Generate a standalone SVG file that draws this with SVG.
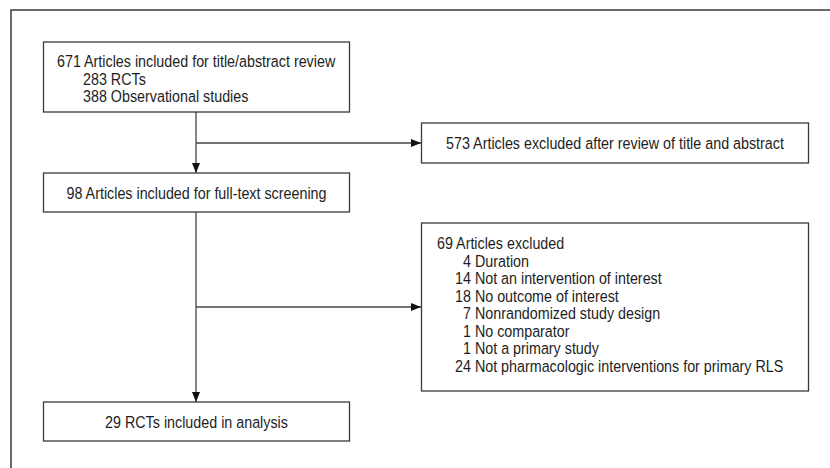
<svg xmlns="http://www.w3.org/2000/svg" width="830" height="468" viewBox="0 0 830 468">
<style>
.box{fill:#fff;stroke:#3a3a3a;stroke-width:1.3}
.frame{fill:#fff;stroke:#3a3a3a;stroke-width:1.5}
.t{font-family:"Liberation Sans",Arial,sans-serif;font-size:16.8px;fill:#1e1e1e}
.c{text-anchor:middle}
.ln{fill:none;stroke:#444;stroke-width:1.3}
</style>
<defs>
<marker id="ah" markerUnits="userSpaceOnUse" markerWidth="10" markerHeight="8" refX="10" refY="4" orient="auto">
<path d="M0,0 L10,4 L0,8 z" fill="#111"/>
</marker>
</defs>
<rect class="frame" x="11" y="10" width="830" height="470"/>
<g id="connectors">
<line class="ln" x1="196" y1="112" x2="196" y2="173" marker-end="url(#ah)"/>
<line class="ln" x1="196" y1="143" x2="421" y2="143" marker-end="url(#ah)"/>
<line class="ln" x1="196" y1="212" x2="196" y2="402" marker-end="url(#ah)"/>
<line class="ln" x1="196" y1="307" x2="421" y2="307" marker-end="url(#ah)"/>
</g>
<g id="n1">
<rect class="box" x="43.5" y="42" width="306" height="70"/>
<text class="t" transform="translate(57 67) scale(0.852 1)">671 Articles included for title/abstract review</text>
<text class="t" transform="translate(83 84.5) scale(0.852 1)">283 RCTs</text>
<text class="t" transform="translate(83 102) scale(0.852 1)">388 Observational studies</text>
</g>
<g id="n2">
<rect class="box" x="421.5" y="123" width="387" height="40"/>
<text class="t c" transform="translate(615 149) scale(0.852 1)">573 Articles excluded after review of title and abstract</text>
</g>
<g id="n3">
<rect class="box" x="43.5" y="173" width="306" height="39"/>
<text class="t c" transform="translate(196.5 198.5) scale(0.852 1)">98 Articles included for full-text screening</text>
</g>
<g id="n4">
<rect class="box" x="421.5" y="223" width="387" height="168"/>
<text class="t" transform="translate(437 249) scale(0.852 1)">69 Articles excluded</text>
<text class="t" transform="translate(463 266.5) scale(0.852 1)">4 Duration</text>
<text class="t" transform="translate(455 284) scale(0.852 1)">14 Not an intervention of interest</text>
<text class="t" transform="translate(455 301.5) scale(0.852 1)">18 No outcome of interest</text>
<text class="t" transform="translate(463 319) scale(0.852 1)">7 Nonrandomized study design</text>
<text class="t" transform="translate(463 336.5) scale(0.852 1)">1 No comparator</text>
<text class="t" transform="translate(463 354) scale(0.852 1)">1 Not a primary study</text>
<text class="t" transform="translate(455 371.5) scale(0.852 1)">24 Not pharmacologic interventions for primary RLS</text>
</g>
<g id="n5">
<rect class="box" x="43.5" y="402" width="306" height="39"/>
<text class="t c" transform="translate(196.5 427.5) scale(0.852 1)">29 RCTs included in analysis</text>
</g>
</svg>
